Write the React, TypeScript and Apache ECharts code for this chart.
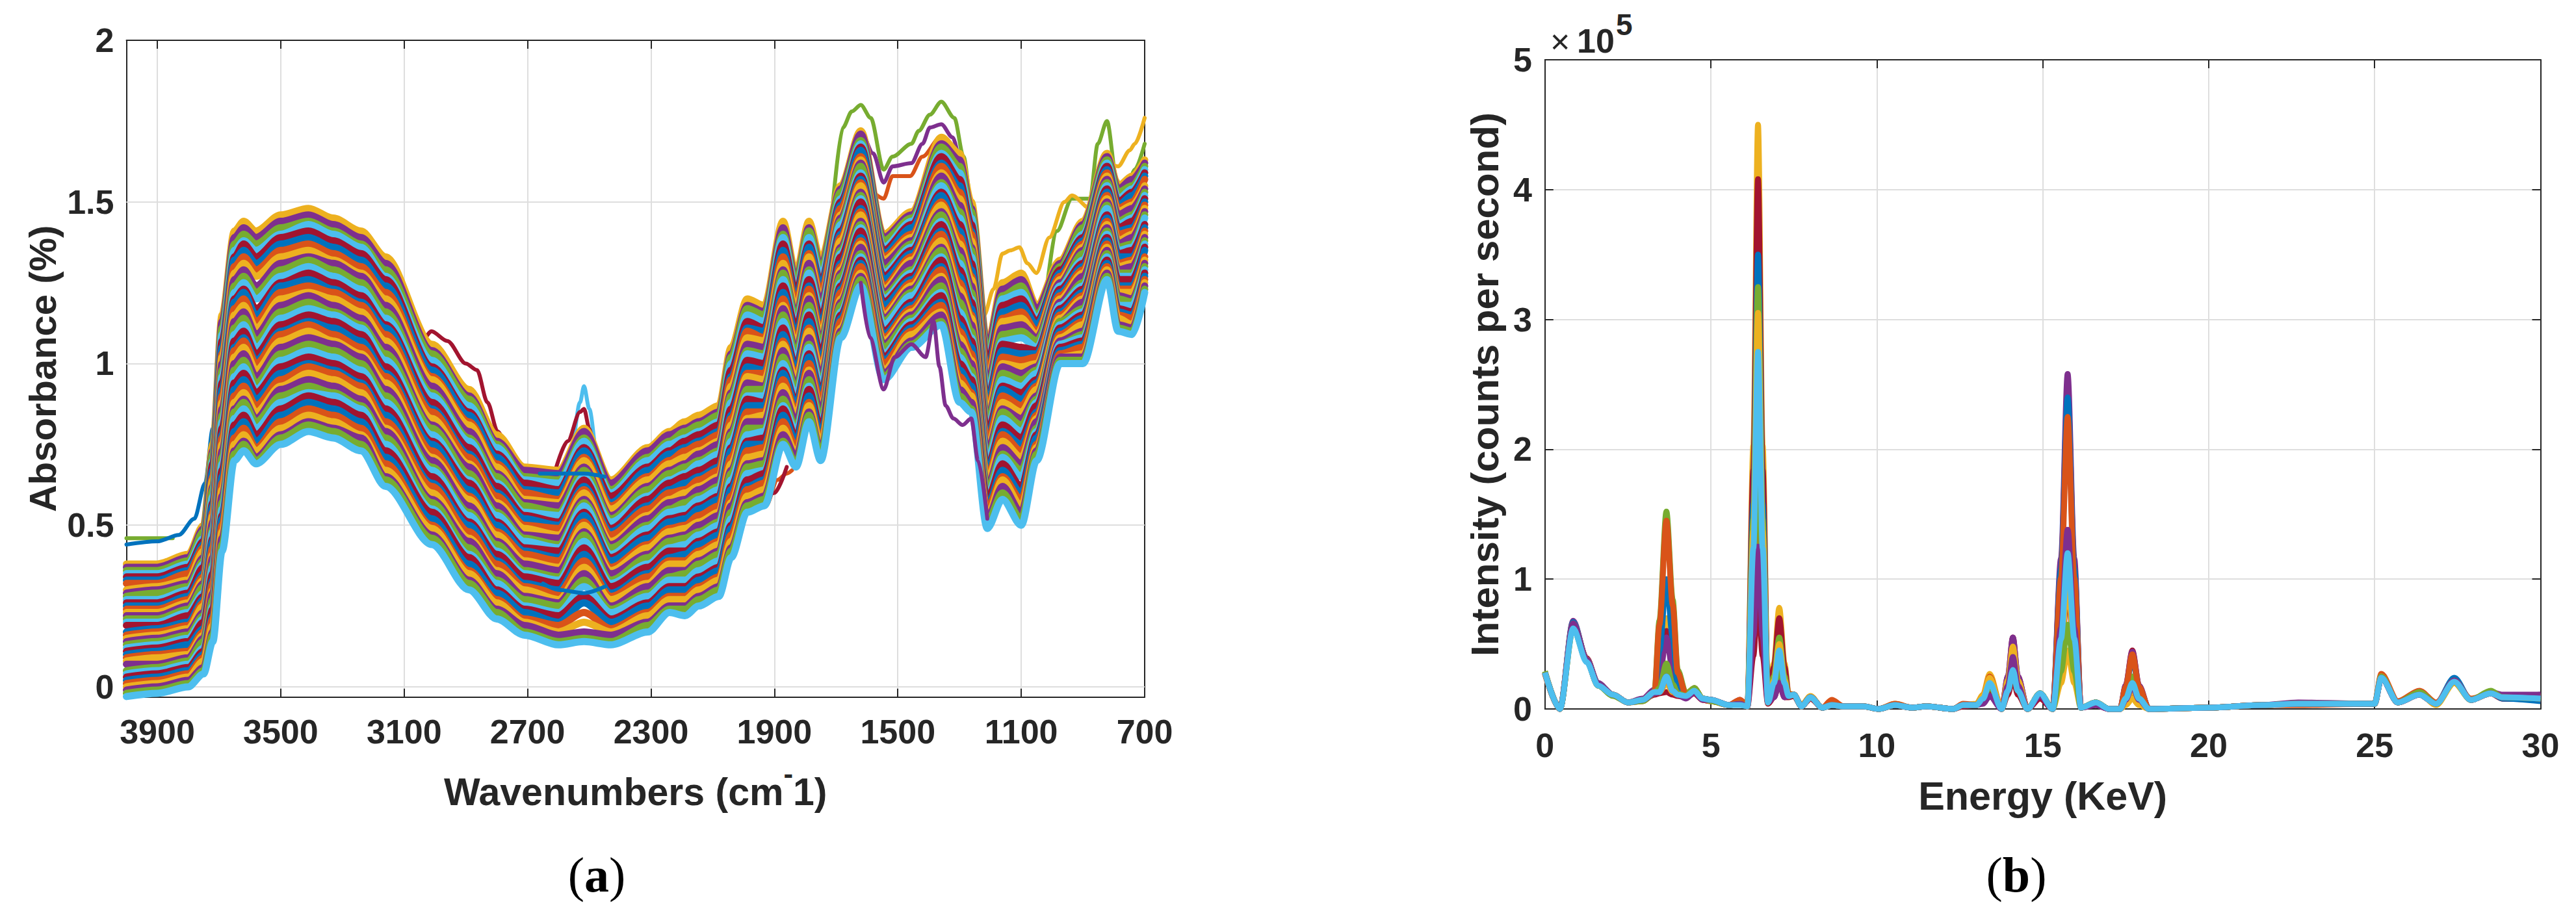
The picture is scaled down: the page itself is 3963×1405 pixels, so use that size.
import React, { useEffect, useRef } from "react";
import * as echarts from "echarts";

// ---------- Panel (a): wavenumbers shared by the dense bundle ----------
const wavenumbers = [4000,3900,3800,3750,3720,3690,3650,3620,3580,3500,3410,3330,3240,3160,3010,2890,2800,2710,2600,2517,2430,2310,2240,2190,2145,2080,2040,1988,1933,1872,1830,1788,1750,1685,1620,1546,1456,1359,1300,1262,1210,1161,1100,1050,974,900,822,786,740,700];
const wavenumberTicks = [700,1100,1500,1900,2300,2700,3100,3500,3900];
const absorbanceTicks = [0,0.5,1,1.5,2];

// Absorbance x 100, top of the bundle to bottom
const absRow00 = [38,38,41,50,75,115,141,144,141,146,148,145,141,133,106,92,78,68,67,80,64,74,79,82,84,87,105,120,118,144,128,144,132,155,172,140,147,170,165,150,106,125,128,118,132,144,165,155,158,163];
const absRow01 = [37,37,40,49,73,113,139,142,139,144,146,143,139,131,104,90,76,67,66,79,63,73,78,80,82,85,103,118,116,142,126,142,130,154,171,139,146,168,163,148,105,123,126,117,131,143,164,154,157,162];
const absRow02 = [36,36,39,48,72,111,137,140,137,142,144,141,137,129,103,89,75,65,64,77,61,71,76,79,81,84,102,117,115,140,125,141,129,153,169,138,145,167,161,147,103,121,124,115,130,142,163,153,155,161];
const absRow03 = [35,35,38,46,70,109,135,138,135,140,143,140,136,127,101,87,74,64,63,76,60,70,75,77,79,82,100,115,113,139,123,139,127,151,168,136,144,165,159,145,101,120,122,114,129,140,162,151,154,160];
const absRow04 = [34,34,37,45,69,107,133,137,133,139,141,138,134,126,99,85,72,63,61,74,59,68,73,76,78,81,98,113,111,137,122,137,125,150,167,135,143,164,157,143,100,118,120,113,129,139,161,150,153,159];
const absRow05 = [33,33,36,44,67,105,132,135,131,137,139,136,132,124,98,84,71,61,60,73,57,67,72,74,76,79,96,111,110,135,120,136,124,149,166,134,142,162,155,141,98,116,118,112,128,138,160,149,152,158];
const absRow06 = [32,32,35,43,65,103,130,133,129,135,137,134,130,122,96,82,69,60,58,71,56,65,70,73,75,78,95,110,108,133,119,134,122,148,164,133,140,161,153,140,97,114,116,110,127,137,159,148,150,157];
const absRow07 = [30,31,33,42,64,102,128,131,127,133,135,132,128,120,95,81,68,58,57,70,55,64,69,71,73,76,93,108,107,131,117,133,120,146,163,132,139,159,151,138,95,113,114,109,126,136,158,147,149,155];
const absRow08 = [29,30,32,40,62,100,126,129,124,131,133,131,127,118,93,79,66,57,56,68,53,62,67,69,72,75,91,106,105,129,115,131,119,145,162,131,138,158,149,136,94,111,112,108,125,135,157,146,148,154];
const absRow09 = [28,29,31,39,61,98,124,127,122,129,132,129,125,116,91,77,65,56,54,67,52,61,66,68,70,73,90,104,103,128,114,129,117,144,161,129,137,156,147,135,92,109,110,107,124,134,156,144,146,153];
const absRow10 = [27,27,30,38,59,96,122,125,120,127,130,127,123,114,90,76,63,54,53,65,51,59,64,66,69,72,88,103,102,126,112,128,116,143,159,128,136,155,145,133,91,107,108,105,124,132,155,143,145,152];
const absRow11 = [26,26,29,37,57,94,120,123,117,125,128,125,121,112,88,74,62,53,51,64,49,58,63,65,67,70,86,101,100,124,111,126,114,141,158,127,135,153,143,131,89,106,105,104,123,131,154,142,144,151];
const absRow12 = [25,25,28,35,56,92,119,122,115,124,126,123,119,111,86,72,60,52,50,62,48,56,61,63,65,68,84,99,98,122,109,124,112,140,157,126,134,152,141,129,88,104,103,103,122,130,153,141,142,150];
const absRow13 = [24,24,27,34,54,90,117,120,113,122,124,122,118,109,85,71,59,50,49,61,47,55,60,61,64,67,83,97,97,120,107,123,110,139,156,124,133,150,139,127,86,102,101,102,121,129,152,140,141,149];
const absRow14 = [23,23,26,33,53,88,115,118,111,120,122,120,116,107,83,69,57,49,47,60,45,53,58,60,62,65,81,96,95,118,106,121,109,138,155,123,132,149,137,126,85,100,99,100,120,128,151,138,140,148];
const absRow15 = [22,22,25,32,51,86,113,116,109,118,121,118,114,105,81,68,56,47,46,58,44,52,57,58,61,64,79,94,93,117,104,120,107,136,153,122,131,147,135,124,83,99,97,99,119,127,150,137,139,147];
const absRow16 = [21,21,24,31,49,84,111,114,107,116,119,116,112,103,80,66,54,46,44,57,43,50,55,57,59,62,78,92,92,115,103,118,106,135,152,121,129,146,133,122,82,97,95,98,118,125,149,136,137,146];
const absRow17 = [20,20,23,29,48,82,109,112,105,114,117,115,111,101,78,64,53,45,43,56,41,49,54,55,58,61,76,90,90,113,101,116,104,134,151,120,128,144,131,120,80,95,93,97,118,124,148,135,136,145];
const absRow18 = [19,19,22,28,46,80,107,110,103,112,115,113,109,99,76,63,51,43,42,54,40,47,52,53,56,59,74,89,88,111,99,115,103,133,150,119,127,143,129,119,79,93,91,95,117,123,146,134,135,143];
const absRow19 = [17,18,20,27,45,78,105,108,101,110,113,111,107,97,75,61,50,42,40,53,39,46,51,52,55,58,73,87,87,109,98,113,101,131,148,118,126,141,127,117,77,92,89,94,116,122,145,133,133,142];
const absRow20 = [16,17,19,26,43,77,104,107,100,109,112,109,105,96,73,59,48,41,39,51,37,44,49,50,53,56,71,85,85,107,96,111,99,130,147,116,125,140,125,115,76,90,87,93,115,121,144,131,132,141];
const absRow21 = [15,16,18,25,41,75,102,105,98,107,110,107,103,94,71,58,47,39,37,50,36,43,48,49,51,54,69,83,84,106,95,110,98,129,146,115,124,138,123,114,74,88,85,92,114,120,143,130,131,140];
const absRow22 = [14,15,17,23,40,73,100,103,96,105,108,106,102,92,70,56,45,38,36,48,35,41,46,47,50,53,67,82,82,104,93,108,96,128,144,114,123,136,121,112,73,86,83,90,113,119,142,129,130,139];
const absRow23 = [13,14,16,22,38,71,98,101,94,103,106,104,100,90,68,54,44,36,34,47,33,40,45,46,48,51,66,80,80,102,92,106,94,127,143,113,122,135,119,110,71,85,81,89,113,117,141,128,128,138];
const absRow24 = [12,13,15,21,37,69,96,99,92,101,104,102,98,88,67,53,42,35,33,45,32,38,43,44,47,50,64,78,79,100,90,105,93,125,142,112,121,133,116,108,70,83,79,88,112,116,140,127,127,137];
const absRow25 = [11,12,14,20,35,67,94,97,91,99,102,100,96,86,65,51,41,34,32,43,31,37,42,42,45,48,62,76,77,98,88,103,91,124,141,110,119,132,114,107,68,81,77,87,111,115,139,126,126,136];
const absRow26 = [10,11,13,18,33,65,92,95,89,97,100,98,94,84,63,50,39,32,30,41,29,35,40,41,44,47,61,75,75,97,87,102,90,123,139,109,118,130,112,105,67,79,75,85,110,114,138,124,124,135];
const absRow27 = [9,10,11,17,32,63,90,93,87,95,99,97,93,82,62,48,38,31,29,39,28,34,39,39,42,45,59,73,74,95,85,100,88,122,138,108,117,129,110,103,65,78,73,84,109,113,137,123,123,133];
const absRow28 = [8,9,10,16,30,61,88,91,85,93,97,95,91,80,60,46,36,30,27,37,27,32,38,38,41,44,57,71,72,93,84,98,86,120,137,107,116,127,108,101,64,76,71,83,108,112,136,122,122,132];
const absRow29 = [7,7,9,15,29,59,86,89,83,92,95,93,89,79,58,45,35,28,26,35,25,31,36,36,39,42,56,69,70,91,82,97,85,119,136,106,115,126,106,100,62,74,69,82,107,110,135,121,120,131];
const absRow30 = [5,6,8,14,27,57,85,88,82,90,93,91,87,77,57,43,33,27,25,33,24,29,34,35,38,41,54,68,69,89,80,95,83,118,134,105,114,124,104,98,61,72,67,80,106,109,134,120,119,130];
const absRow31 = [4,5,7,12,25,55,83,86,80,88,91,90,86,75,55,41,32,25,23,31,23,28,33,33,36,39,52,66,67,87,79,93,81,116,133,103,113,122,102,96,59,71,65,79,106,108,133,118,118,129];
const absRow32 = [3,4,6,11,24,53,81,84,78,86,90,88,84,73,54,40,30,24,22,28,21,26,31,31,34,37,50,64,66,86,77,92,80,115,132,102,112,121,100,95,58,69,62,78,105,107,132,117,116,128];
const absRow33 = [2,3,5,10,22,52,79,82,76,84,88,86,82,71,52,38,29,23,20,26,20,25,30,30,33,36,49,62,64,84,76,90,78,114,131,101,111,119,98,93,56,67,60,77,104,106,131,116,115,127];
const absRow34 = [1,2,4,9,21,50,77,80,74,82,86,84,80,69,50,36,27,21,19,23,18,23,28,28,31,34,47,61,63,82,74,88,76,113,130,100,110,118,96,91,55,65,58,75,103,105,130,115,114,126];
const absRow35 = [0,1,3,8,19,48,75,78,73,80,84,82,78,67,49,35,26,20,17,20,17,22,27,27,30,33,45,59,61,80,72,87,75,111,128,98,109,116,94,90,53,64,56,74,102,103,129,114,112,125];
const absRow36 = [-1,0,2,6,17,46,73,76,71,78,82,80,77,65,47,33,24,19,16,17,16,20,25,25,28,31,43,57,59,78,71,85,73,110,127,97,107,115,92,88,52,62,54,73,102,102,128,112,111,124];
const absRow37 = [-2,-1,1,5,16,44,72,75,70,77,81,79,75,64,46,32,23,17,14,15,14,19,24,24,27,30,42,56,58,76,69,84,72,109,126,96,106,113,90,86,51,60,52,72,101,101,127,111,110,123];
const absRow38 = [-3,-2,0,4,14,42,70,73,69,75,79,77,73,62,44,30,21,16,13,14,13,17,23,22,25,28,40,54,56,75,68,82,70,108,124,95,105,112,88,85,49,58,50,70,100,100,126,110,109,122];
const absRows = [absRow00,absRow01,absRow02,absRow03,absRow04,absRow05,absRow06,absRow07,absRow08,absRow09,absRow10,absRow11,absRow12,absRow13,absRow14,absRow15,absRow16,absRow17,absRow18,absRow19,absRow20,absRow21,absRow22,absRow23,absRow24,absRow25,absRow26,absRow27,absRow28,absRow29,absRow30,absRow31,absRow32,absRow33,absRow34,absRow35,absRow36,absRow37,absRow38];

// Single lines that stand clear of the bundle: wavenumber and absorbance x 100
const greenWn = [1710,1678,1649,1620,1588,1546,1517,1456,1432,1396,1359,1317,1287,1262,1239,1214,1161,1106,1075,1045,984,936,877,852,822,791,767,732,700];
const greenAbs = [150,173,178,180,176,160,164,168,172,177,181,176,164,150,114,92,101,96,92,110,141,151,151,168,175,157,150,160,168];
const purpleWn = [1650,1620,1580,1546,1517,1456,1420,1396,1359,1323,1287,1262,1240];
const purpleAbs = [165,172,165,156,161,162,168,173,174,170,159,141,114];
const orangeWn = [1600,1546,1517,1460,1420,1362,1323,1275];
const orangeAbs = [155,151,158,158,164,170,165,150];
const yellowWn = [1262,1239,1220,1190,1161,1135,1106,1080,1051,1009,960,936,877,822,786,748,732,700];
const yellowAbs = [142,123,115,123,134,135,136,131,128,139,150,152,148,162,161,166,168,176];
const lowPurpleWn = [1620,1590,1546,1510,1456,1410,1384,1365,1345,1320,1290,1262,1240,1210];
const lowPurpleAbs = [125,108,92,102,106,102,113,99,87,83,81,83,70,52];
const redBumpWn = [3030,3012,2960,2900,2864,2830,2797,2750,2700];
const redBumpAbs = [108,110,107,100,98,88,79,70,65];
const bluePeakWn = [2600,2560,2530,2517,2500,2470,2430];
const bluePeakAbs = [66,72,88,93,86,68,60];
const redPeakWn = [2610,2570,2530,2517,2500,2470];
const redPeakAbs = [67,76,85,86,80,65];
const blueLeftWn = [4000,3900,3830,3780,3745,3720,3690,3650];
const blueLeftAbs = [44,45,47,52,63,80,110,130];
const greenLeftWn = [4000,3900,3850];
const greenLeftAbs = [46,46,46];
const blueFlatWn = [2660,2600,2517,2450];
const blueFlatAbs = [66,66,66,65];
const blueArcWn = [2650,2600,2517,2450];
const blueArcAbs = [32,30,29,31];
const orangeLowWn = [2040,2018,1988,1927,1890,1860,1843];
const orangeLowAbs = [45,50,54,56,64,66,67];
const redLowWn = [1995,1950,1900,1860];
const redLowAbs = [58,58,60,68];

// ---------- Panel (b): energy grid (keV) and intensity in thousands of counts per second ----------
const energies = [0,0.45,0.85,1.26,1.6,2.05,2.5,2.95,3.3,3.45,3.66,3.85,4,4.25,4.5,4.75,5,5.54,5.88,6.1,6.28,6.42,6.56,6.72,6.9,7.06,7.22,7.34,7.5,7.73,8,8.36,8.64,9,9.6,10.05,10.55,11.06,11.5,12.3,12.6,13,13.2,13.4,13.76,13.95,14.1,14.25,14.54,14.92,15.3,15.55,15.75,15.95,16.15,16.6,17,17.33,17.5,17.7,17.9,18.2,20,21.6,22.7,25,25.2,25.7,26.35,26.85,27.4,27.9,28.5,28.85,30];
const energyTicks = [0,5,10,15,20,25,30];
const intensityTicks = [0,1,2,3,4,5];
const xrfRed2 = [27,0,65,37,18,11,5,7,11,12,13,11,10,9,12,7,6,3,4,2,41,90,41,4,9,20,9,9,10,2,8,1,3,2,2,0,3,1,2,0,2,3,6,15,0,11,25,11,0,8,0,43,95,43,1,3,0,0,5,12,5,0,1,3,4,4,24,5,11,4,21,7,12,8,7];
const xrfYellow = [27,0,63,37,18,11,5,7,13,32,70,38,15,10,16,8,6,3,5,2,203,450,203,6,35,78,35,12,11,3,10,1,5,2,2,0,4,1,2,0,3,4,11,27,0,22,50,22,0,12,0,45,100,45,1,5,0,0,6,15,6,0,1,3,4,4,24,5,11,4,20,7,12,9,9];
const xrfRed = [28,0,66,39,19,11,5,7,13,27,60,33,13,10,16,8,7,3,7,2,184,408,184,5,32,70,32,11,11,2,9,1,4,2,2,0,3,1,2,0,3,3,6,15,0,25,55,25,0,11,0,110,245,110,1,5,0,0,18,45,18,0,1,3,4,4,24,5,11,4,22,7,12,8,7];
const xrfPurple = [28,0,68,38,20,11,5,8,15,25,55,30,12,10,15,8,7,3,4,2,72,160,72,5,14,30,14,10,11,2,9,1,3,2,2,0,3,1,2,0,3,3,8,20,0,25,55,25,0,12,0,116,258,116,1,5,0,0,18,44,18,0,1,3,5,4,25,5,12,4,22,7,13,11,11];
const xrfBlue = [28,0,67,38,19,11,5,7,13,45,100,55,20,10,16,8,7,3,4,2,158,350,158,5,22,50,22,10,11,2,9,1,3,2,2,0,3,1,2,0,3,3,8,20,0,19,42,19,0,12,0,108,240,108,1,5,0,0,16,40,16,0,1,3,4,4,24,5,12,4,24,7,13,8,6];
const xrfGreen = [29,0,66,38,19,11,5,7,13,68,152,84,30,12,16,8,7,3,4,2,146,325,146,5,25,55,25,10,11,2,9,1,3,2,2,0,3,1,2,0,3,3,9,22,0,16,35,16,0,12,0,59,130,59,1,5,0,0,10,25,10,0,1,3,4,4,26,5,12,4,22,7,13,9,9];
const xrfOrange = [28,0,64,37,18,11,5,6,12,65,145,80,28,11,15,7,6,3,7,2,81,180,81,5,18,40,18,10,11,2,9,1,7,2,2,0,4,1,2,0,4,3,10,25,0,20,45,20,0,12,0,101,225,101,1,5,0,0,17,42,17,0,1,3,3,4,27,6,14,5,21,8,12,9,8];
const xrfYellow2 = [28,0,65,38,18,11,5,7,13,13,20,13,11,10,16,8,6,3,4,2,137,305,137,5,22,50,22,10,11,2,9,1,3,2,2,0,3,1,2,0,3,3,10,24,0,22,48,22,0,12,0,20,45,20,1,5,0,0,3,8,3,0,1,3,4,4,25,5,12,3,20,7,12,9,10];
const xrfGreen2 = [28,0,62,37,18,10,5,6,12,16,35,19,12,10,16,8,6,3,4,2,99,220,99,5,16,35,16,10,11,2,9,1,3,2,2,0,3,1,2,0,3,3,7,18,0,14,30,14,0,12,0,29,65,29,1,5,0,0,8,20,8,0,1,3,4,4,25,5,13,4,21,7,14,9,8];
const xrfPurple2 = [28,0,66,38,19,11,5,7,12,13,25,14,11,8,13,7,7,3,4,2,56,125,56,5,9,20,9,10,11,2,9,1,3,2,2,0,3,1,2,0,3,3,4,10,0,18,40,18,0,10,0,62,138,62,1,3,0,0,7,18,7,0,1,3,4,4,24,5,11,4,22,7,12,9,11];
const xrfCyan = [28,0,62,36,18,11,5,7,13,13,25,14,11,10,14,8,7,3,3,2,124,275,124,5,20,45,20,10,11,2,9,1,3,2,2,0,3,1,2,0,3,3,8,20,0,14,30,14,0,12,0,54,120,54,1,5,0,0,8,20,8,0,1,3,4,4,24,5,11,4,21,7,12,9,8];

const BLUE = "#0072BD", ORANGE = "#D95319", YELLOW = "#EDB120", PURPLE = "#7E2F8E", GREEN = "#77AC30", CYAN = "#4DBEEE", RED = "#A2142F";
const cycle = [BLUE, ORANGE, YELLOW, PURPLE, GREEN, CYAN, RED];
const INK = "#262626";
const GRIDLINE = "#dedede";
const SANS = "Liberation Sans";

const pairs = (xs: number[], ys: number[], div: number) => xs.map((x, i) => [x, ys[i] / div]);

function absLine(name: string, xs: number[], ys: number[], color: string, width: number) {
  return { name, type: "line", xAxisIndex: 0, yAxisIndex: 0, data: pairs(xs, ys, 100), symbol: "none", smooth: 0.3, smoothMonotone: "x", clip: false, z: 3, lineStyle: { color, width, join: "round", cap: "round" } };
}
function xrfLine(name: string, ys: number[], color: string) {
  return { name, type: "line", xAxisIndex: 2, yAxisIndex: 2, data: pairs(energies, ys, 100), symbol: "none", smooth: 0.3, smoothMonotone: "x", clip: false, z: 3, lineStyle: { color, width: 9, join: "round" } };
}

function valueAxis(extra: any, labelled: boolean, labelMargin: number, ticks: number[]) {
  return {
    type: "value",
    axisLine: { show: true, onZero: false, lineStyle: { color: INK, width: 2 } },
    axisTick: { show: true, inside: true, length: 13, customValues: ticks, lineStyle: { color: INK, width: 2 } },
    axisLabel: { show: labelled, customValues: ticks, margin: labelMargin, color: INK, fontFamily: SANS, fontWeight: "bold", fontSize: 52, formatter: (v: number) => String(v) },
    splitLine: { show: false },
    ...extra,
  };
}
const grid = { lineStyle: { color: GRIDLINE, width: 2 } };
const nameStyle = (size: number) => ({ color: INK, fontFamily: SANS, fontWeight: "bold", fontSize: size });

function buildOption() {
  const absX = { min: 700, max: 4000, interval: 400, inverse: true };
  const absY = { min: -0.0316, max: 2 };
  const xrfX = { min: 0, max: 30, interval: 5 };
  const xrfY = { min: 0, max: 5, interval: 1 };
  return {
    animation: false,
    backgroundColor: "#ffffff",
    grid: [
      { left: 194.5, top: 62, width: 1566.5, height: 1010.7, containLabel: false },
      { left: 2376.8, top: 92, width: 1531.7, height: 999, containLabel: false },
    ],
    xAxis: [
      valueAxis({ ...absX, gridIndex: 0, position: "bottom", splitLine: { show: true, ...grid }, name: "{n|Wavenumbers (cm}{s|-}{n|1)}", nameLocation: "middle", nameGap: 96, nameTextStyle: { ...nameStyle(59), rich: { n: { ...nameStyle(59), lineHeight: 80, verticalAlign: "bottom" }, s: { ...nameStyle(44), lineHeight: 44, verticalAlign: "top" } } } }, true, 27, wavenumberTicks),
      valueAxis({ ...absX, gridIndex: 0, position: "top" }, false, 0, wavenumberTicks),
      valueAxis({ ...xrfX, gridIndex: 1, position: "bottom", splitLine: { show: true, ...grid }, name: "Energy (KeV)", nameLocation: "middle", nameGap: 103, nameTextStyle: nameStyle(61) }, true, 30, energyTicks),
      valueAxis({ ...xrfX, gridIndex: 1, position: "top" }, false, 0, energyTicks),
    ],
    yAxis: [
      valueAxis({ ...absY, gridIndex: 0, position: "left", name: "Absorbance (%)", nameLocation: "middle", nameGap: 100, nameTextStyle: nameStyle(58) }, true, 19, absorbanceTicks),
      valueAxis({ ...absY, gridIndex: 0, position: "right" }, false, 0, absorbanceTicks),
      valueAxis({ ...xrfY, gridIndex: 1, position: "left", splitLine: { show: true, ...grid }, name: "Intensity (counts per second)", nameLocation: "middle", nameGap: 62, nameTextStyle: nameStyle(60) }, true, 20, intensityTicks),
      valueAxis({ ...xrfY, gridIndex: 1, position: "right" }, false, 0, intensityTicks),
    ],
    series: [
      {
        name: "absorbance gridlines", type: "line", xAxisIndex: 0, yAxisIndex: 0, data: [], z: 1,
        markLine: { z: 1, silent: true, symbol: "none", label: { show: false }, lineStyle: { color: GRIDLINE, width: 2, type: "solid" }, data: absorbanceTicks.slice(0, 4).map((v) => ({ yAxis: v })) },
      },
      absLine("green high", greenWn, greenAbs, GREEN, 6),
      absLine("purple high", purpleWn, purpleAbs, PURPLE, 6),
      absLine("orange high", orangeWn, orangeAbs, ORANGE, 6),
      absLine("yellow high", yellowWn, yellowAbs, YELLOW, 6),
      absLine("red bump", redBumpWn, redBumpAbs, RED, 6),
      absLine("cyan peak", bluePeakWn, bluePeakAbs, CYAN, 6),
      absLine("red peak", redPeakWn, redPeakAbs, RED, 6),
      absLine("green left", greenLeftWn, greenLeftAbs, GREEN, 6),
      absLine("blue left", blueLeftWn, blueLeftAbs, BLUE, 6),
      absLine("orange low", orangeLowWn, orangeLowAbs, ORANGE, 6),
      absLine("red low", redLowWn, redLowAbs, RED, 6),
      ...absRows.map((row, i) => absLine("spectrum " + (i + 1), wavenumbers, row, cycle[(i + 2) % 7], 11)),
      absLine("purple low", lowPurpleWn, lowPurpleAbs, PURPLE, 6),
      absLine("blue flat", blueFlatWn, blueFlatAbs, BLUE, 6),
      absLine("blue arc", blueArcWn, blueArcAbs, BLUE, 6),
      xrfLine("xrf red 2", xrfRed2, RED),
      xrfLine("xrf yellow", xrfYellow, YELLOW),
      xrfLine("xrf red", xrfRed, RED),
      xrfLine("xrf purple", xrfPurple, PURPLE),
      xrfLine("xrf blue", xrfBlue, BLUE),
      xrfLine("xrf green", xrfGreen, GREEN),
      xrfLine("xrf orange", xrfOrange, ORANGE),
      xrfLine("xrf yellow 2", xrfYellow2, YELLOW),
      xrfLine("xrf green 2", xrfGreen2, GREEN),
      xrfLine("xrf purple 2", xrfPurple2, PURPLE),
      xrfLine("xrf cyan", xrfCyan, CYAN),
    ],
    graphic: [
      { type: "text", x: 2385, y: 64, style: { text: "\u00D7", font: "normal 52px 'Liberation Sans'", fill: INK, textVerticalAlign: "middle" } },
      { type: "text", x: 2426, y: 63, style: { text: "10", font: "bold 52px 'Liberation Sans'", fill: INK, textVerticalAlign: "middle" } },
      { type: "text", x: 2486, y: 38, style: { text: "5", font: "bold 46px 'Liberation Sans'", fill: INK, textVerticalAlign: "middle" } },
      {
        type: "text", x: 918, y: 1346,
        style: { text: "{r|(}{b|a}{r|)}", textAlign: "center", textVerticalAlign: "middle", rich: { r: { font: "normal 76px 'Liberation Serif'", fill: "#000" }, b: { font: "bold 76px 'Liberation Serif'", fill: "#000" } } },
      },
      {
        type: "text", x: 3102, y: 1346,
        style: { text: "{r|(}{b|b}{r|)}", textAlign: "center", textVerticalAlign: "middle", rich: { r: { font: "normal 76px 'Liberation Serif'", fill: "#000" }, b: { font: "bold 76px 'Liberation Serif'", fill: "#000" } } },
      },
    ],
  };
}

export default function App() {
  const ref = useRef<HTMLDivElement>(null);
  useEffect(() => {
    const chart = echarts.init(ref.current!, null, { renderer: "svg" });
    chart.setOption(buildOption() as any);
    return () => chart.dispose();
  }, []);
  return <div ref={ref} style={{ position: "fixed", left: 0, top: 0, width: 3963, height: 1405, background: "#fff" }} />;
}
